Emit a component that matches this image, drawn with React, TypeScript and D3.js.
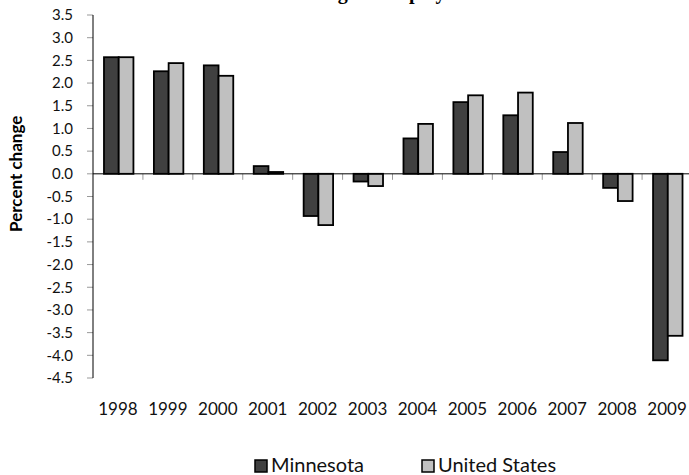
import React from "react";
import * as d3 from "d3";

const years = ["1998","1999","2000","2001","2002","2003","2004","2005","2006","2007","2008","2009"];
const seriesNames = ["Minnesota", "United States"];
const minnesota = [2.57, 2.26, 2.39, 0.17, -0.93, -0.17, 0.78, 1.58, 1.29, 0.48, -0.31, -4.11];
const unitedStates = [2.57, 2.44, 2.16, 0.04, -1.13, -0.27, 1.1, 1.73, 1.79, 1.12, -0.6, -3.57];
const yTicks = [3.5, 3.0, 2.5, 2.0, 1.5, 1.0, 0.5, 0.0, -0.5, -1.0, -1.5, -2.0, -2.5, -3.0, -3.5, -4.0, -4.5];
const colors = ["#404040", "#c0c0c0"];

const W = 689, H = 475;
const left = 93, right = 692, top = 15, bottom = 378;
const font = "Lato, 'Open Sans', sans-serif";

export default function App() {
  const x0 = d3.scaleBand<string>().domain(years).range([left, right]).padding(0);
  const bw = x0.bandwidth();
  const x1 = d3.scaleBand<string>().domain(seriesNames).range([bw * 0.22, bw * 0.81]).padding(0);
  const y = d3.scaleLinear().domain([-4.5, 3.5]).range([bottom, top]);
  const y0 = y(0);
  const data = [minnesota, unitedStates];

  return (
    <svg width={W} height={H} style={{ position: "absolute", left: 0, top: 0, background: "#fff" }}>
      <text x={390} y={-1} textAnchor="middle" fontFamily="'Liberation Serif', serif" fontWeight="bold" fontSize={20}>
        Change in employment
      </text>
      {/* y ticks */}
      {yTicks.map((t) => (
        <g key={t}>
          <line x1={left - 6} x2={left} y1={y(t)} y2={y(t)} stroke="#999" strokeWidth={1} />
          <text x={left - 20} y={y(t)} dy="0.35em" textAnchor="end" fontFamily={font} fontSize={15} fill="#111">
            {t.toFixed(1)}
          </text>
        </g>
      ))}
      {/* bars */}
      {years.map((yr, i) => (
        <g key={yr} transform={`translate(${x0(yr)},0)`}>
          {seriesNames.map((s, j) => {
            const v = data[j][i];
            const yv = y(v);
            return (
              <rect
                key={s}
                x={x1(s)}
                y={Math.min(yv, y0)}
                width={x1.bandwidth()}
                height={Math.abs(yv - y0)}
                fill={colors[j]}
                stroke="#000"
                strokeWidth={1.8}
              />
            );
          })}
        </g>
      ))}
      {/* category ticks */}
      {years.slice(1).map((yr) => (
        <line key={yr} x1={x0(yr)} x2={x0(yr)} y1={y0} y2={y0 + 6} stroke="#999" strokeWidth={1} />
      ))}
      {/* axes */}
      <line x1={left} x2={left} y1={top} y2={bottom} stroke="#000" strokeWidth={1} />
      <line x1={left} x2={right} y1={y0} y2={y0} stroke="#000" strokeWidth={1} />
      {/* x labels */}
      {years.map((yr) => (
        <text key={yr} x={(x0(yr) as number) + bw / 2} y={415} textAnchor="middle" fontFamily={font} fontSize={17} fill="#111">
          {yr}
        </text>
      ))}
      {/* y title */}
      <text transform={`translate(22,${y0}) rotate(-90)`} textAnchor="middle" fontFamily={font} fontWeight="bold" fontSize={17}>
        Percent change
      </text>
      {/* legend */}
      {seriesNames.map((s, j) => {
        const lx = [255, 422][j];
        return (
          <g key={s}>
            <rect x={lx} y={460} width={12} height={12} fill={colors[j]} stroke="#000" strokeWidth={1.5} />
            <text x={lx + 16} y={472} fontFamily={font} fontSize={20} fill="#111">
              {s}
            </text>
          </g>
        );
      })}
    </svg>
  );
}
